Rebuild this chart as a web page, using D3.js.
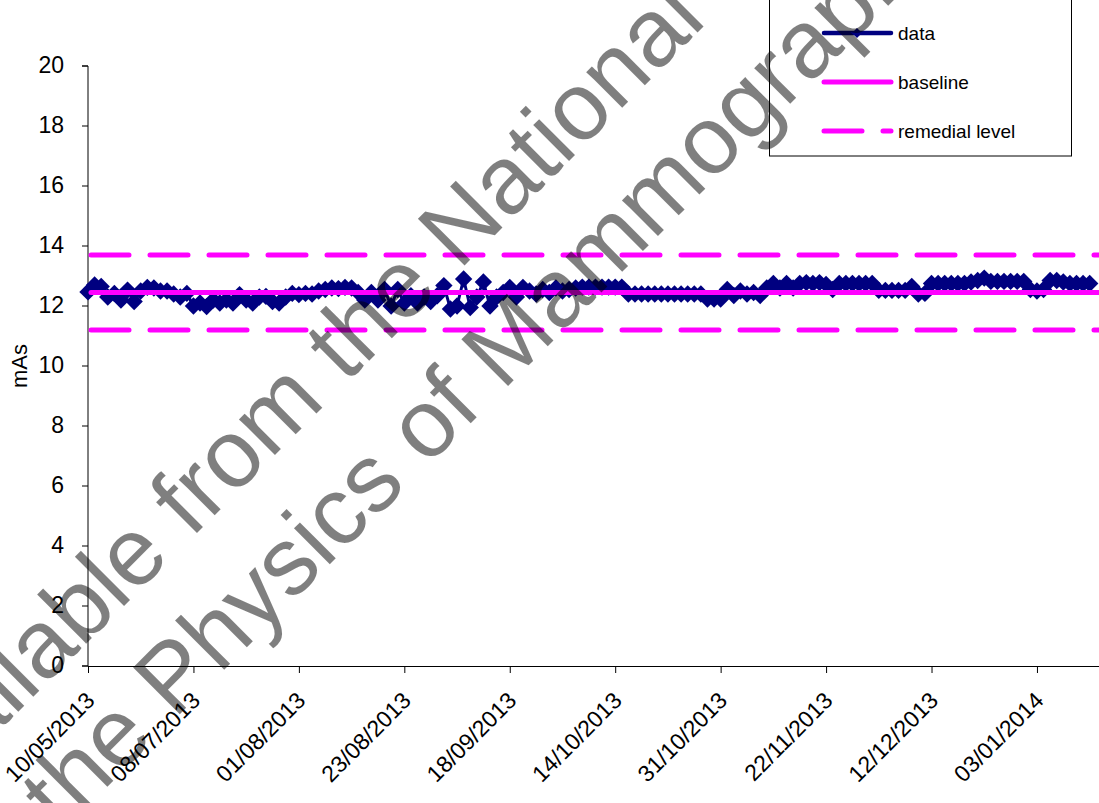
<!DOCTYPE html>
<html>
<head>
<meta charset="utf-8">
<script src="https://cdn.jsdelivr.net/npm/d3@7/dist/d3.min.js"></script>
<style>
  html, body { margin: 0; padding: 0; background: #fff; }
  svg { display: block; font-family: "Liberation Sans", Arial, sans-serif; }
</style>
</head>
<body>
<svg id="chart" width="1099" height="803"></svg>
<script>
// ---- data ----
const tickIndex = [0, 16, 32, 48, 64, 80, 96, 112, 128, 144];
const tickLabels = ["10/05/2013", "08/07/2013", "01/08/2013", "23/08/2013", "18/09/2013",
                    "14/10/2013", "31/10/2013", "22/11/2013", "12/12/2013", "03/01/2014"];
const yTicks = [0, 2, 4, 6, 8, 10, 12, 14, 16, 18, 20];
const mAs = [
  12.47, 12.70, 12.65, 12.30, 12.42, 12.20, 12.53, 12.15, 12.50, 12.62,
  12.60, 12.50, 12.50, 12.40, 12.30, 12.42, 12.00, 12.10, 11.98, 12.20,
  12.10, 12.20, 12.10, 12.38, 12.20, 12.10, 12.30, 12.32, 12.15, 12.10,
  12.30, 12.42, 12.38, 12.42, 12.40, 12.50, 12.55, 12.60, 12.58, 12.62,
  12.60, 12.45, 12.20, 12.45, 12.20, 12.55, 12.00, 12.55, 12.10, 12.34,
  12.10, 12.30, 12.15, 12.34, 12.68, 11.90, 12.00, 12.90, 11.95, 12.30,
  12.80, 12.00, 12.30, 12.45, 12.62, 12.30, 12.62, 12.50, 12.40, 12.55,
  12.45, 12.60, 12.50, 12.55, 12.60, 12.63, 12.63, 12.63, 12.63, 12.63,
  12.63, 12.63, 12.40, 12.40, 12.40, 12.40, 12.40, 12.40, 12.40, 12.40,
  12.40, 12.40, 12.40, 12.40, 12.23, 12.23, 12.23, 12.55, 12.35, 12.50,
  12.40, 12.45, 12.35, 12.60, 12.75, 12.60, 12.75, 12.60, 12.75, 12.78,
  12.75, 12.78, 12.72, 12.55, 12.75, 12.75, 12.75, 12.75, 12.75, 12.75,
  12.52, 12.52, 12.52, 12.52, 12.52, 12.65, 12.40, 12.42, 12.75, 12.75,
  12.75, 12.75, 12.75, 12.75, 12.80, 12.85, 12.93, 12.82, 12.82, 12.82,
  12.82, 12.82, 12.82, 12.55, 12.50, 12.55, 12.85, 12.85, 12.80, 12.75,
  12.75, 12.75, 12.75
];
const baselineValue = 12.45;
const remedialUpper = 13.7;
const remedialLower = 11.2;
const seriesNames = ["data", "baseline", "remedial level"];
const watermarkLines = ["Available from the National", "for the Physics of Mammography"];

// ---- layout ----
const svg = d3.select("#chart");
svg.append("rect").attr("width", 1099).attr("height", 803).attr("fill", "#fff");

const x = d3.scaleLinear().domain([0, 160]).range([88, 88 + 160 * 105.44 / 16]);
const y = d3.scaleLinear().domain([0, 20]).range([666, 66]);

const NAVY = "#000080";
const PINK = "#FF00FF";

// y axis
const yAxis = svg.append("g")
  .attr("transform", "translate(88,0)")
  .call(d3.axisLeft(y).tickValues(yTicks).tickSize(6).tickPadding(18).offset(0));
yAxis.select(".domain").attr("stroke", "#000");
yAxis.selectAll(".tick line").attr("stroke", "#000");
yAxis.selectAll(".tick text").attr("font-size", 23).attr("fill", "#000")
  .attr("font-family", "Liberation Sans, Arial, sans-serif");

// x axis
const xAxis = svg.append("g")
  .attr("transform", "translate(0,666)")
  .call(d3.axisBottom(x).tickValues(tickIndex).tickSize(7).tickFormat(() => ""));
xAxis.select(".domain").attr("stroke", "#000").attr("d", `M${x(0)},0.5H1099`);
xAxis.selectAll(".tick line").attr("stroke", "#000");

svg.append("g").selectAll("text")
  .data(tickIndex)
  .join("text")
  .attr("transform", (d) => `translate(${x(d) + 8},702) rotate(-45)`)
  .attr("text-anchor", "end")
  .attr("font-size", 23)
  .attr("fill", "#000")
  .text((d, i) => tickLabels[i]);

// y title
svg.append("text")
  .attr("transform", "translate(27,366) rotate(-90)")
  .attr("text-anchor", "middle")
  .attr("font-size", 22)
  .text("mAs");

// reference lines
const xEnd = x(155);
svg.append("line")
  .attr("x1", x(0) + 3).attr("x2", xEnd)
  .attr("y1", y(remedialUpper)).attr("y2", y(remedialUpper))
  .attr("stroke", PINK).attr("stroke-width", 5)
  .attr("stroke-dasharray", "38,21").attr("stroke-linecap", "round");
svg.append("line")
  .attr("x1", x(0) + 3).attr("x2", xEnd)
  .attr("y1", y(remedialLower)).attr("y2", y(remedialLower))
  .attr("stroke", PINK).attr("stroke-width", 5)
  .attr("stroke-dasharray", "38,21").attr("stroke-linecap", "round");

// data line + markers
svg.append("path")
  .datum(mAs)
  .attr("fill", "none")
  .attr("stroke", NAVY)
  .attr("stroke-width", 3)
  .attr("d", d3.line().x((d, i) => x(i)).y((d) => y(d)));

const diamond = d3.symbol().type(d3.symbolSquare).size(151);
svg.append("g").selectAll("path")
  .data(mAs)
  .join("path")
  .attr("transform", (d, i) => `translate(${x(i)},${y(d)}) rotate(45)`)
  .attr("d", diamond)
  .attr("fill", NAVY);

// baseline (drawn on top of markers)
svg.append("line")
  .attr("x1", x(0) + 3).attr("x2", xEnd)
  .attr("y1", y(baselineValue)).attr("y2", y(baselineValue))
  .attr("stroke", PINK).attr("stroke-width", 5).attr("stroke-linecap", "round");

// legend
const lg = svg.append("g");
lg.append("rect")
  .attr("x", 769.5).attr("y", -1).attr("width", 302).attr("height", 157)
  .attr("fill", "#fff").attr("stroke", "#000").attr("stroke-width", 1);
const legendY = [33, 82, 131];
lg.append("line").attr("x1", 824).attr("x2", 891).attr("y1", legendY[0]).attr("y2", legendY[0])
  .attr("stroke", NAVY).attr("stroke-width", 4.5).attr("stroke-linecap", "round");
lg.append("path").attr("transform", `translate(857,${legendY[0]}) rotate(45)`)
  .attr("d", d3.symbol().type(d3.symbolSquare).size(50)).attr("fill", NAVY);
lg.append("line").attr("x1", 824).attr("x2", 891).attr("y1", legendY[1]).attr("y2", legendY[1])
  .attr("stroke", PINK).attr("stroke-width", 5).attr("stroke-linecap", "round");
lg.append("line").attr("x1", 824).attr("x2", 891).attr("y1", legendY[2]).attr("y2", legendY[2])
  .attr("stroke", PINK).attr("stroke-width", 5).attr("stroke-linecap", "round")
  .attr("stroke-dasharray", "38,21");
lg.selectAll("text.lbl")
  .data(seriesNames)
  .join("text")
  .attr("class", "lbl")
  .attr("x", 898)
  .attr("y", (d, i) => legendY[i])
  .attr("dy", "0.35em")
  .attr("font-size", 19)
  .text((d) => d);

// watermark
const wm = svg.append("g").attr("fill", "#000").attr("fill-opacity", 0.5)
  .attr("font-size", 96);
wm.append("text")
  .attr("transform", "translate(-102,832) rotate(-45)")
  .text(watermarkLines[0]);
wm.append("text")
  .attr("transform", "translate(-37,931) rotate(-45)")
  .text(watermarkLines[1]);
</script>
</body>
</html>
